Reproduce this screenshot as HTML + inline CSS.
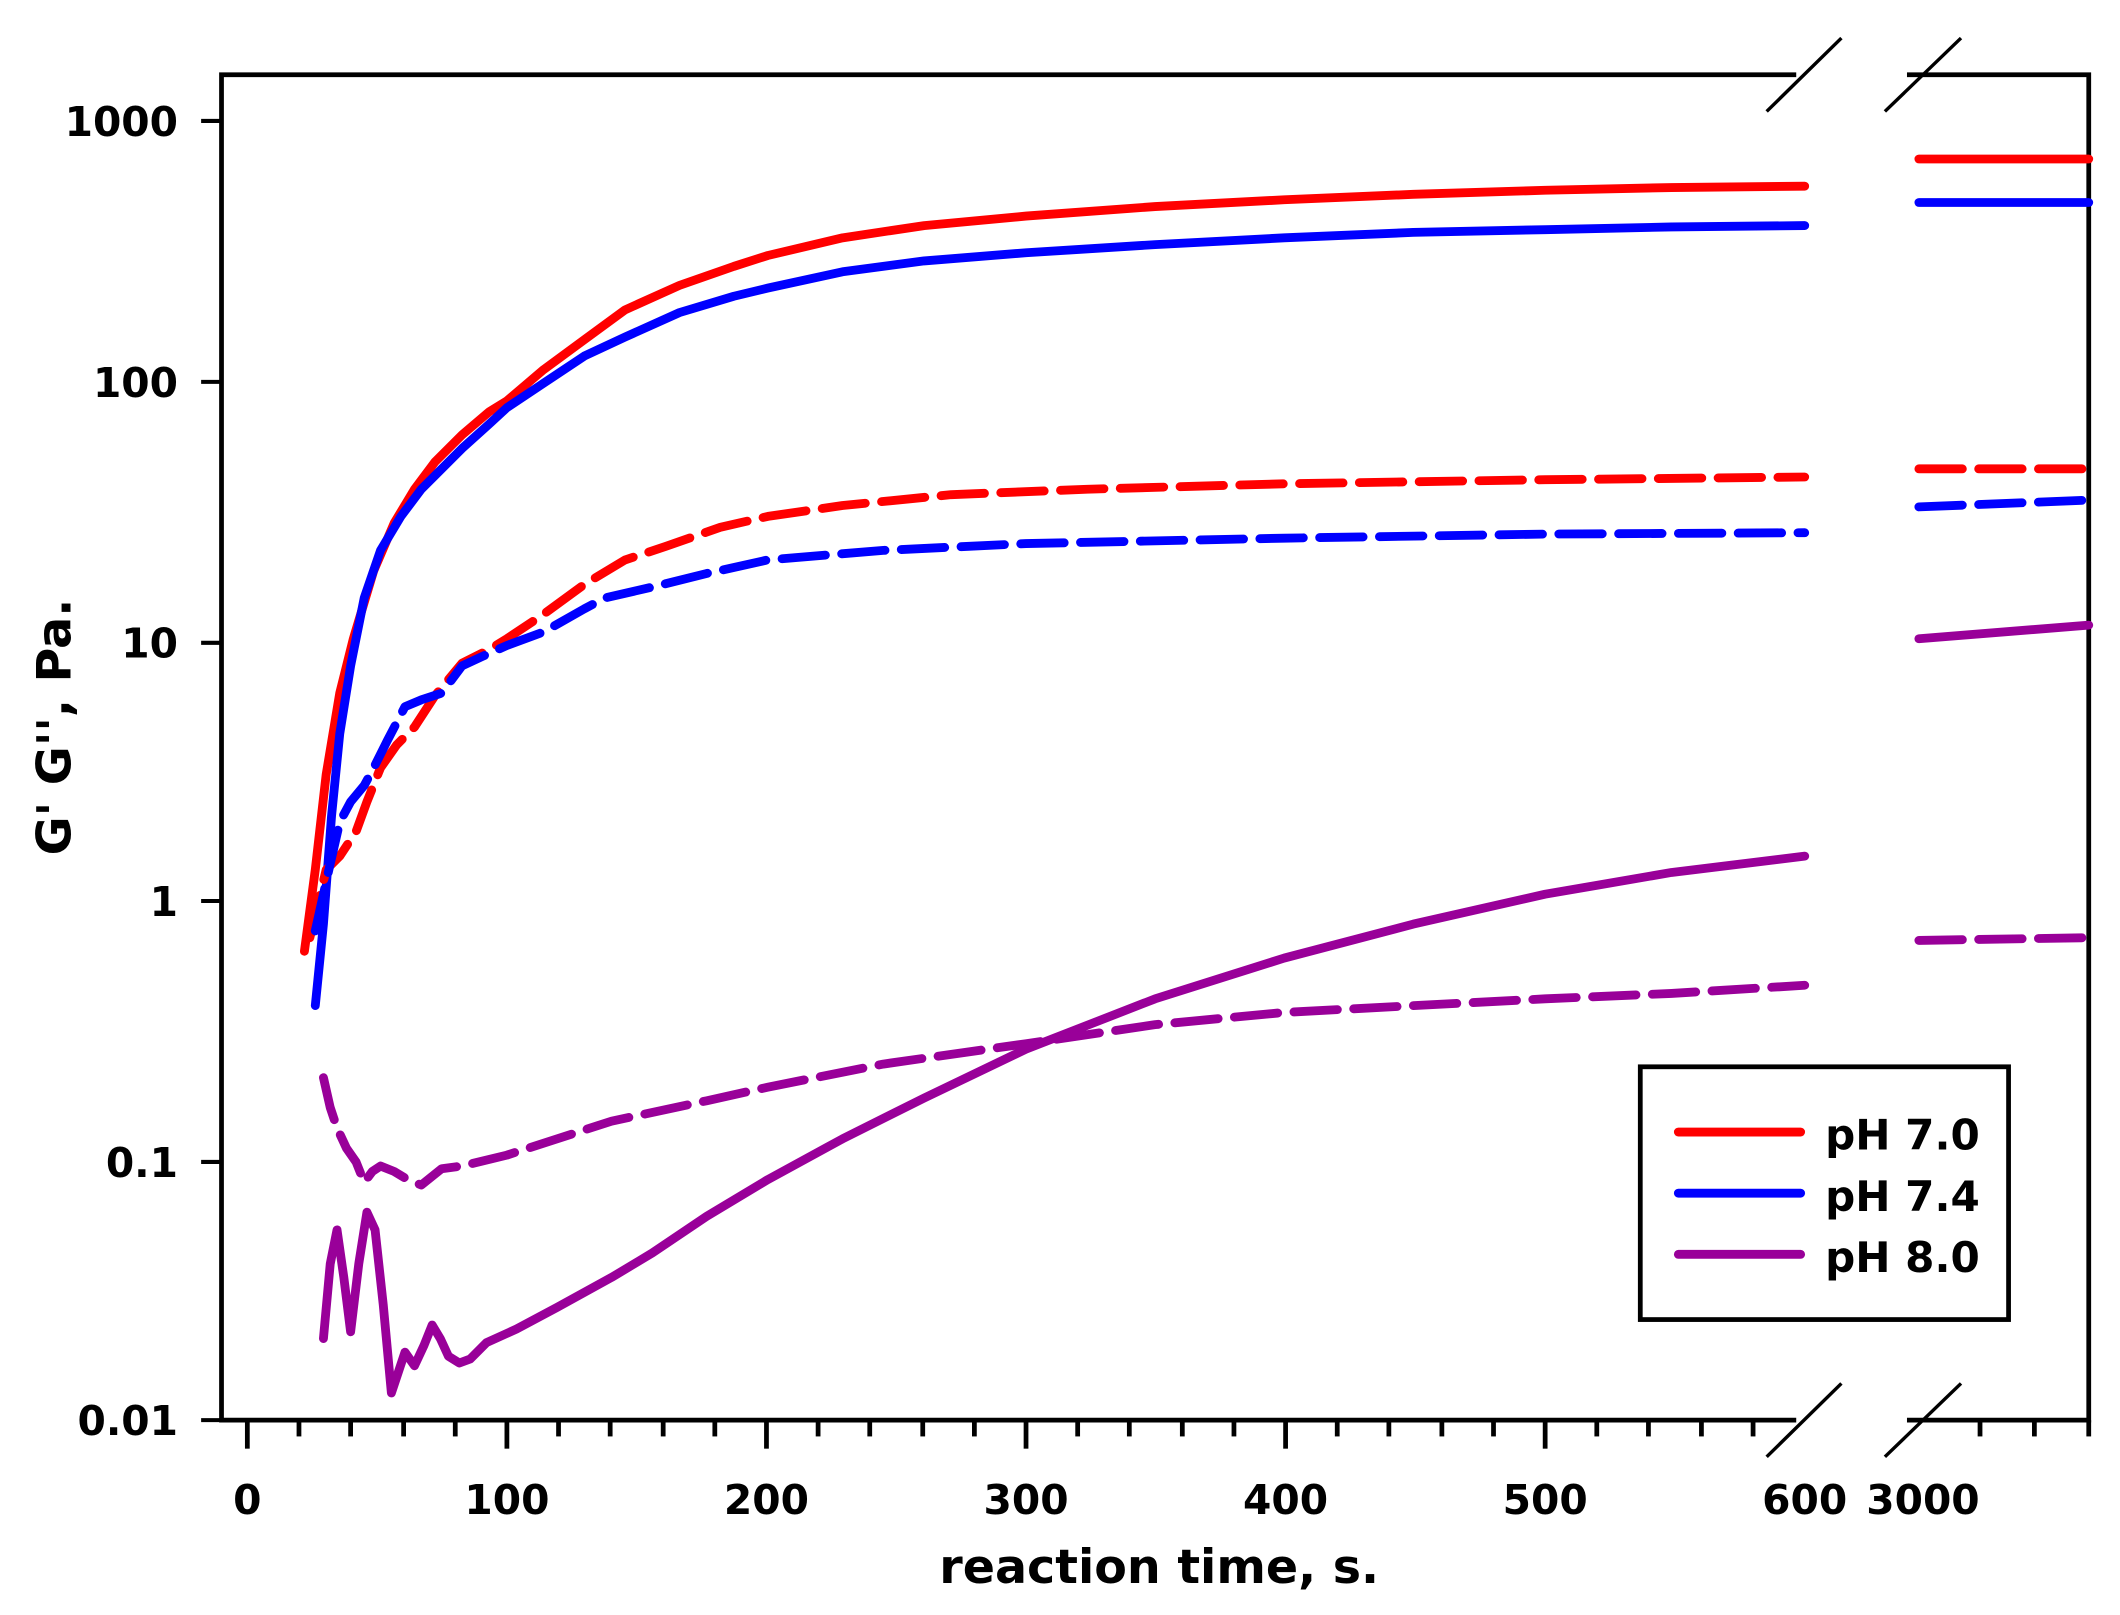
<!DOCTYPE html>
<html><head><meta charset="utf-8"><style>
html,body{margin:0;padding:0;background:#fff;}
svg{display:block;}
text{font-family:"DejaVu Sans","Liberation Sans",sans-serif;font-weight:bold;fill:#000;}
</style></head><body>
<svg width="2120" height="1615" viewBox="0 0 1560 1188.4" preserveAspectRatio="none" xmlns="http://www.w3.org/2000/svg">
<rect width="1560" height="1188.4" fill="#fff"/>
<g stroke="#000" stroke-width="3.5" fill="none" stroke-linecap="square">
<polyline points="1320,55 163,55 163,1045 1320,1045"/>
<polyline points="1405,55 1537,55 1537,1045 1405,1045"/>
</g>
<g stroke="#000" stroke-width="2.5">
<line x1="1300" y1="82" x2="1355" y2="28"/><line x1="1387" y1="82" x2="1443" y2="28"/>
<line x1="1300" y1="1072" x2="1355" y2="1018"/><line x1="1387" y1="1072" x2="1443" y2="1018"/>
</g>
<g stroke="#000" stroke-width="3.5">
<line x1="182" y1="1045" x2="182" y2="1066"/><line x1="373" y1="1045" x2="373" y2="1066"/>
<line x1="564" y1="1045" x2="564" y2="1066"/><line x1="755" y1="1045" x2="755" y2="1066"/>
<line x1="946" y1="1045" x2="946" y2="1066"/><line x1="1137" y1="1045" x2="1137" y2="1066"/>
<line x1="220" y1="1045" x2="220" y2="1057"/><line x1="258" y1="1045" x2="258" y2="1057"/><line x1="297" y1="1045" x2="297" y2="1057"/><line x1="335" y1="1045" x2="335" y2="1057"/>
<line x1="411" y1="1045" x2="411" y2="1057"/><line x1="449" y1="1045" x2="449" y2="1057"/><line x1="488" y1="1045" x2="488" y2="1057"/><line x1="526" y1="1045" x2="526" y2="1057"/>
<line x1="602" y1="1045" x2="602" y2="1057"/><line x1="640" y1="1045" x2="640" y2="1057"/><line x1="679" y1="1045" x2="679" y2="1057"/><line x1="717" y1="1045" x2="717" y2="1057"/>
<line x1="793" y1="1045" x2="793" y2="1057"/><line x1="831" y1="1045" x2="831" y2="1057"/><line x1="870" y1="1045" x2="870" y2="1057"/><line x1="908" y1="1045" x2="908" y2="1057"/>
<line x1="984" y1="1045" x2="984" y2="1057"/><line x1="1022" y1="1045" x2="1022" y2="1057"/><line x1="1061" y1="1045" x2="1061" y2="1057"/><line x1="1099" y1="1045" x2="1099" y2="1057"/>
<line x1="1175" y1="1045" x2="1175" y2="1057"/><line x1="1213" y1="1045" x2="1213" y2="1057"/><line x1="1252" y1="1045" x2="1252" y2="1057"/><line x1="1290" y1="1045" x2="1290" y2="1057"/>
<line x1="1457" y1="1045" x2="1457" y2="1057"/><line x1="1497" y1="1045" x2="1497" y2="1057"/><line x1="1537" y1="1045" x2="1537" y2="1057"/>
</g>
<g stroke="#000" stroke-width="3">
<line x1="148" y1="89" x2="163" y2="89"/><line x1="148" y1="281" x2="163" y2="281"/><line x1="148" y1="473" x2="163" y2="473"/>
<line x1="148" y1="663" x2="163" y2="663"/><line x1="148" y1="855" x2="163" y2="855"/><line x1="148" y1="1045" x2="163" y2="1045"/>
</g>
<g stroke="#000" stroke-width="3">
<path id="m" d="M155,-57.5H163M155,-91.1H163M155,-115H163M155,-133.5H163M155,-148.6H163M155,-161.4H163M155,-172.5H163M155,-182.3H163" fill="none"/>
</g>
<use href="#m" transform="translate(0,281)"/>
<use href="#m" transform="translate(0,473)"/>
<use href="#m" transform="translate(0,663)"/>
<use href="#m" transform="translate(0,855)"/>
<use href="#m" transform="translate(0,1045)"/>
<g font-size="30" text-anchor="end">
<text x="131" y="100">1000</text><text x="131" y="292">100</text><text x="131" y="484">10</text>
<text x="131" y="674">1</text><text x="131" y="866">0.1</text><text x="131" y="1056">0.01</text>
</g>
<g font-size="30" text-anchor="middle">
<text x="182" y="1114">0</text><text x="373" y="1114">100</text><text x="564" y="1114">200</text>
<text x="755" y="1114">300</text><text x="946" y="1114">400</text><text x="1137" y="1114">500</text>
<text x="1328" y="1114">600</text><text x="1415" y="1114">3000</text>
</g>
<text x="853" y="1165" font-size="35" text-anchor="middle">reaction time, s.</text>
<text transform="translate(52,535) rotate(-90)" font-size="35" text-anchor="middle">G' G'', Pa.</text>
<g fill="none" stroke-width="6.5" stroke-linecap="round" stroke-linejoin="round">
<polyline stroke="#ff0000" points="224,700 232,640 240,570 250,510 260,470 275,420 290,385 305,360 320,340 340,320 360,303 373,295 400,272 430,250 460,228 500,210 540,196 565,188 620,175 680,166 755,159 850,152 945,147 1040,143 1137,140 1230,138 1328,137"/>
<polyline stroke="#ff0000" points="1412,117 1537,117"/>
<polyline stroke="#0000ff" points="232,740 238,680 244,600 250,540 258,490 268,440 280,405 295,380 310,360 325,345 340,330 360,312 373,300 400,282 430,262 460,248 500,230 540,218 565,212 620,200 680,192 755,186 850,180 945,175 1040,171 1137,169 1230,167 1328,166"/>
<polyline stroke="#0000ff" points="1412,149 1537,149"/>
<polyline stroke="#ff0000" stroke-dasharray="32 12" points="228,690 240,640 250,630 262,612 270,590 280,565 292,548 305,535 320,512 340,488 360,478 373,470 400,452 430,430 460,412 490,402 530,388 565,380 620,372 700,364 800,360 945,356 1137,353 1328,351"/>
<polyline stroke="#ff0000" stroke-dasharray="32 12" points="1412,345 1537,345"/>
<polyline stroke="#0000ff" stroke-dasharray="32 12" points="232,685 242,640 250,605 258,590 268,578 275,565 285,545 298,520 310,515 325,510 340,490 355,483 373,475 400,465 430,448 445,440 480,432 520,422 565,412 650,405 755,400 945,396 1137,393 1328,392"/>
<polyline stroke="#0000ff" stroke-dasharray="32 12" points="1412,373 1537,368"/>
<polyline stroke="#990099" points="238,985 243,930 248,905 253,940 258,980 264,930 270,892 276,905 282,960 288,1025 293,1010 298,995 305,1005 312,990 318,975 324,985 330,998 338,1003 346,1000 358,988 380,978 410,962 450,940 480,922 520,895 565,868 620,838 680,808 755,772 850,735 945,705 1040,680 1137,658 1230,642 1328,630"/>
<polyline stroke="#990099" points="1412,470 1537,460"/>
<polyline stroke="#990099" stroke-dasharray="32 12" points="238,793 243,815 248,830 255,845 262,855 268,870 274,862 280,858 290,862 300,868 310,872 325,860 340,858 373,850 450,825 520,810 565,800 650,783 755,768 850,754 945,745 1040,740 1137,735 1230,731 1328,725"/>
<polyline stroke="#990099" stroke-dasharray="32 12" points="1412,692 1537,690"/>
</g>
<rect x="1207" y="785" width="271" height="186" fill="#fff" stroke="#000" stroke-width="3.5"/>
<g stroke-width="6.5" stroke-linecap="round">
<line x1="1235" y1="833" x2="1325" y2="833" stroke="#ff0000"/>
<line x1="1235" y1="878" x2="1325" y2="878" stroke="#0000ff"/>
<line x1="1235" y1="923" x2="1325" y2="923" stroke="#990099"/>
</g>
<g font-size="31">
<text x="1343" y="846">pH 7.0</text><text x="1343" y="891">pH 7.4</text><text x="1343" y="936">pH 8.0</text>
</g>
</svg>
</body></html>
